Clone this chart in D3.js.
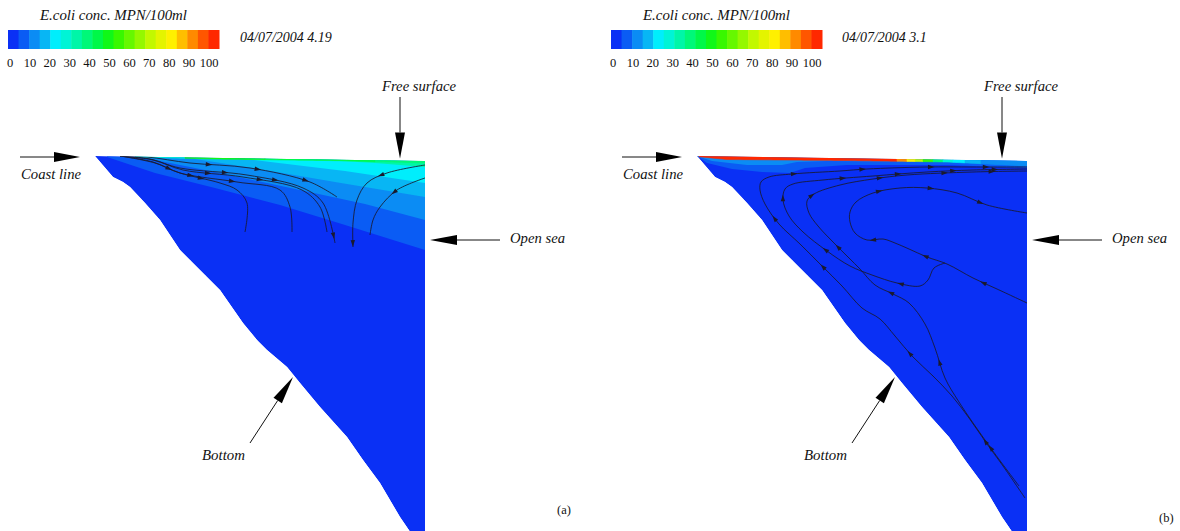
<!DOCTYPE html>
<html><head><meta charset="utf-8">
<script src="https://cdn.jsdelivr.net/npm/d3@7"></script>
<style>
body{margin:0;background:#fff}
svg text{font-family:'Liberation Serif','Times New Roman',Times,serif;fill:#111}
</style>
</head><body>
<svg id="c" width="1180" height="531" font-family="Liberation Serif, Times New Roman, serif"></svg>
<script>
// ---------------- DATA ----------------
const legendTitle = "E.coli conc. MPN/100ml";
const panelDates = ["04/07/2004 4.19", "04/07/2004 3.1"];
const panelTags = ["(a)", "(b)"];
const tickLabels = [0,10,20,30,40,50,60,70,80,90,100];
const levelStarts = d3.range(0,100,5);           // 20 colour levels of 5 MPN/100ml
const palette = ["#0a30f5","#0a5cf4","#0b8cf4","#08b6f4","#00eefc","#00f4d6","#00f6a8","#00f878",
                 "#00f848","#10f818","#38f800","#66f800","#94f800","#c2f800","#e4f400","#fff000",
                 "#ffbe00","#ff8a00","#ff5600","#ff2800"];

// domain geometry (x = distance from coast, d = depth), same for both runs
const surfaceX = [0, 330], surfaceD = [0, 5];
const bottomX = [0,18,28,35,50,65,85,95,110,125,148,162,172,192,205,225,252,268,285,305,318];
const bottomD = [0,21,26,31,47,64,94,104,119,134,167,184,194,211,227,251,281,304,327,361,380];
const openSeaX = 330, openSeaBottomD = 380;

// run (a): concentration band boundaries (upper region of each filled with given level)
const leftBandLevels = [1, 2, 3, 4, 6];
const leftBand1 = [[12,1],[60,17],[120,32],[185,49],[250,69],[330,94]];
const leftBand2 = [[50,2],[120,16],[205,34],[270,48],[330,64]];
const leftBand3 = [[100,3],[170,14],[240,26],[330,41]];
const leftBand4 = [[150,3],[250,15],[330,27]];
const leftBand5 = [[200,2.5],[280,7],[330,11]];
const leftStripBottom = [[40,1],[120,3],[250,4.8],[330,7]];
const leftStripX = [40,90,170,280,330];
const leftStripLevel = [5,9,8,7];

// run (b)
const rightBandLevels = [1, 2];
const rightBand1 = [[0,0],[10,7],[35,13],[65,16],[93,17],[108,12],[150,9],[250,9],[330,12]];
const rightBand2 = [[0,0],[15,5],[50,9],[85,9],[100,6],[130,5],[250,6],[330,10]];
const rightStripBottom = [[0,0.5],[30,3.5],[150,4.5],[250,6],[330,10]];
const rightStripX = [2,200,210,218,226,236,246,256,268,284,330];
const rightStripLevel = [19,17,15,13,10,7,5,4,3,2];

// streamlines run (a)
const leftS1 = [[25,0],[52,1],[95,7],[155,12],[215,26],[242,41]];
const leftS2 = [[25,0],[55,3],[85,12],[152,19],[208,32],[228,47],[240,87]];
const leftS3 = [[25,0],[58,4],[88,14],[148,21],[207,34],[225,51],[232,76]];
const leftS4 = [[25,0],[58,6],[85,17],[142,26],[185,34],[195,51],[197,76]];
const leftS5 = [[25,0],[60,7],[85,17],[125,27],[142,34],[152,47],[150,76]];
const leftS6 = [[330,9],[292,17],[272,27],[262,44],[258,67],[258,91]];
const leftS7 = [[330,22],[302,34],[285,51],[278,64],[275,79]];
// streamlines run (b)
const rightA = [[328,342],[306,310],[290,288],[272,262],[255,240],[236,220],[216,201],[198,180],[183,163],[165,152],[145,130],[125,110],[103,88],[82,68],[68,48],[63,34],[64,26],[72,21],[95,18],[143,15],[170,13],[230,11],[276,11],[330,11]];
const rightB = [[248,107],[237,112],[231,124],[223,130],[200,127],[175,119],[153,110],[130,95],[106,76],[92,60],[86,44],[88,33],[96,28],[126,24],[176,20],[230,16],[276,14],[330,13]];
const rightC = [[322,330],[293,291],[262,246],[248,222],[238,192],[228,168],[212,147],[196,138],[178,129],[163,113],[152,102],[136,86],[121,70],[112,57],[110,45],[117,38],[143,29],[176,23],[210,19],[276,16],[330,15]];
const rightD = [[330,147],[300,133],[276,122],[250,108],[230,101],[212,93],[198,87],[186,83],[170,84],[158,77],[153,66],[153,56],[159,46],[176,37],[203,32],[230,32],[260,37],[290,49],[330,57]];

// ---------------- DRAW ----------------
const FONT = "Liberation Serif, Times New Roman, serif";
const svg = d3.select("#c");
const color = d3.scaleQuantize().domain([0,100]).range(palette);
const lvl = i => palette[i];

function interp(pts, x){
  const xs = pts.map(p=>p[0]), ds = pts.map(p=>p[1]);
  return d3.scaleLinear().domain(xs).range(ds).clamp(true)(x);
}
const surf = x => d3.scaleLinear().domain(surfaceX).range(surfaceD)(x);

const panels = [
  {id:"a", x0:95, x1:425, legendX:8, dateX:240, tagX:557, tagY:514,
   bands:[leftBand1,leftBand2,leftBand3,leftBand4,leftBand5], bandLevels:leftBandLevels,
   stripBottom:leftStripBottom, stripX:leftStripX, stripLevel:leftStripLevel,
   lines:[[leftS1,[0.4,0.62,0.84]],[leftS2,[0.42,0.62,0.97]],[leftS3,[0.38,0.6]],[leftS4,[0.35,0.55]],
          [leftS5,[0.3,0.5]],[leftS6,[0.35,0.97]],[leftS7,[0.4]]]},
  {id:"b", x0:697, x1:1027, legendX:611, dateX:842, tagX:1159, tagY:522,
   bands:[rightBand1,rightBand2], bandLevels:rightBandLevels,
   stripBottom:rightStripBottom, stripX:rightStripX, stripLevel:rightStripLevel,
   lines:[[rightA,[0.1,0.27,0.45,0.55,0.66,0.76,0.86,0.94]],[rightB,[0.12,0.3,0.45,0.6,0.72,0.84,0.93]],
          [rightC,[0.08,0.25,0.4,0.52,0.63,0.75,0.86,0.94]],[rightD,[0.12,0.28,0.42,0.62,0.75,0.88]]]}
];

panels.forEach((P,pi)=>{
  const x = d3.scaleLinear().domain([0,330]).range([P.x0,P.x1]);
  const y = d3.scaleLinear().domain([0,375]).range([156,531]);
  const g = svg.append("g");
  const line = d3.line().x(d=>x(d[0])).y(d=>y(d[1]));

  const domainPts = [[surfaceX[0],surfaceD[0]],[surfaceX[1],surfaceD[1]],[openSeaX,openSeaBottomD]]
     .concat(bottomX.map((bx,i)=>[bx,bottomD[i]]).reverse());
  const clipId = "clip"+P.id;
  g.append("clipPath").attr("id",clipId).append("path").attr("d", line(domainPts)+"Z");
  const cg = g.append("g").attr("clip-path",`url(#${clipId})`);
  cg.append("path").attr("d", line(domainPts)+"Z").attr("fill", lvl(0));

  P.bands.forEach((b,bi)=>{
    const x0 = b[0][0];
    const pts = b.concat([[330, surf(330)],[x0, surf(x0)]]);
    cg.append("path").attr("d", line(pts)+"Z").attr("fill", lvl(P.bandLevels[bi]));
  });
  for(let i=0;i<P.stripLevel.length;i++){
    const a = P.stripX[i], bb = P.stripX[i+1];
    const xs = d3.range(a, bb, 3).concat([bb]);
    const pts = xs.map(v=>[v, interp(P.stripBottom, v)]).concat([[bb, surf(bb)-0.5],[a, surf(a)-0.5]]);
    cg.append("path").attr("d", line(pts)+"Z").attr("fill", lvl(P.stripLevel[i]))
      .attr("stroke", lvl(P.stripLevel[i])).attr("stroke-width",0.6);
  }

  const sl = d3.line().x(d=>x(d[0])).y(d=>y(d[1])).curve(d3.curveCatmullRom.alpha(0.5));
  P.lines.forEach(([pts, arrows])=>{
    const path = cg.append("path").attr("d", sl(pts)).attr("fill","none")
      .attr("stroke","#1a1a2e").attr("stroke-width",1).attr("stroke-opacity",0.85);
    const node = path.node(), L = node.getTotalLength();
    arrows.forEach(f=>{
      const l = f*L, p = node.getPointAtLength(l), q = node.getPointAtLength(Math.min(L, l+1.5)),
            r = node.getPointAtLength(Math.max(0, l-1.5));
      let dx = q.x-r.x, dy = q.y-r.y; const n = Math.hypot(dx,dy)||1; dx/=n; dy/=n;
      const tip=[p.x+dx*3.5,p.y+dy*3.5], b1=[p.x-dx*3-dy*2.2,p.y-dy*3+dx*2.2], b2=[p.x-dx*3+dy*2.2,p.y-dy*3-dx*2.2];
      cg.append("path").attr("d",`M${tip}L${b1}L${b2}Z`).attr("fill","#1a1a2e");
    });
  });

  const ann = svg.append("g");
  function arrow(tx,ty,fx,fy,headLen){
    const dx=tx-fx, dy=ty-fy, n=Math.hypot(dx,dy), ux=dx/n, uy=dy/n;
    const bx=tx-ux*headLen, by=ty-uy*headLen;
    ann.append("line").attr("x1",fx).attr("y1",fy).attr("x2",bx).attr("y2",by)
       .attr("stroke","#111").attr("stroke-width",1);
    ann.append("path").attr("d",`M${tx},${ty}L${bx-uy*5},${by+ux*5}L${bx+uy*5},${by-ux*5}Z`).attr("fill","#000");
  }
  arrow(x(-15), y(1), x(-75), y(1), 26);
  arrow(x(305), y(2.5), x(305), y(-59), 26);
  arrow(x(335), y(84), x(405), y(84), 27);
  arrow(x(198), y(221), x(155), y(287), 28);
  const it = (tx,ty,s,w)=>ann.append("text").attr("x",tx).attr("y",ty).attr("font-style","italic")
        .attr("font-family",FONT).attr("font-size",14).attr("textLength",w).attr("lengthAdjust","spacingAndGlyphs").text(s);
  it(x(-74), y(23), "Coast line", 60);
  it(x(287), y(-65), "Free surface", 74);
  it(x(415), y(87), "Open sea", 55);
  it(x(107), y(304), "Bottom", 43);
  ann.append("text").attr("x",P.tagX).attr("y",P.tagY).attr("font-family",FONT).attr("font-size",12.5).text(panelTags[pi]);

  const lg = svg.append("g");
  const lx = d3.scaleLinear().domain([0,100]).range([P.legendX, P.legendX+211]);
  lg.selectAll("rect").data(levelStarts).join("rect")
    .attr("x",d=>lx(d)).attr("y",30).attr("width",d=>lx(d+5)-lx(d)+0.5).attr("height",19)
    .attr("fill",d=>color(d+2.5));
  const tx = d3.scaleLinear().domain([0,100]).range([P.legendX+2, P.legendX+201]);
  lg.selectAll("text.tk").data(tickLabels).join("text").attr("class","tk")
    .attr("x",d=>tx(d)).attr("y",67).attr("text-anchor","middle").attr("font-family",FONT)
    .attr("font-size",12.5).text(d=>d);
  lg.append("text").attr("x",P.legendX+32).attr("y",20)
    .attr("font-style","italic").attr("font-family",FONT).attr("font-size",14)
    .attr("textLength",147).attr("lengthAdjust","spacingAndGlyphs").text(legendTitle);
  lg.append("text").attr("x",P.dateX).attr("y",42).attr("font-style","italic").attr("font-family",FONT)
    .attr("font-size",14).text(panelDates[pi]);
});
</script>
</body></html>
